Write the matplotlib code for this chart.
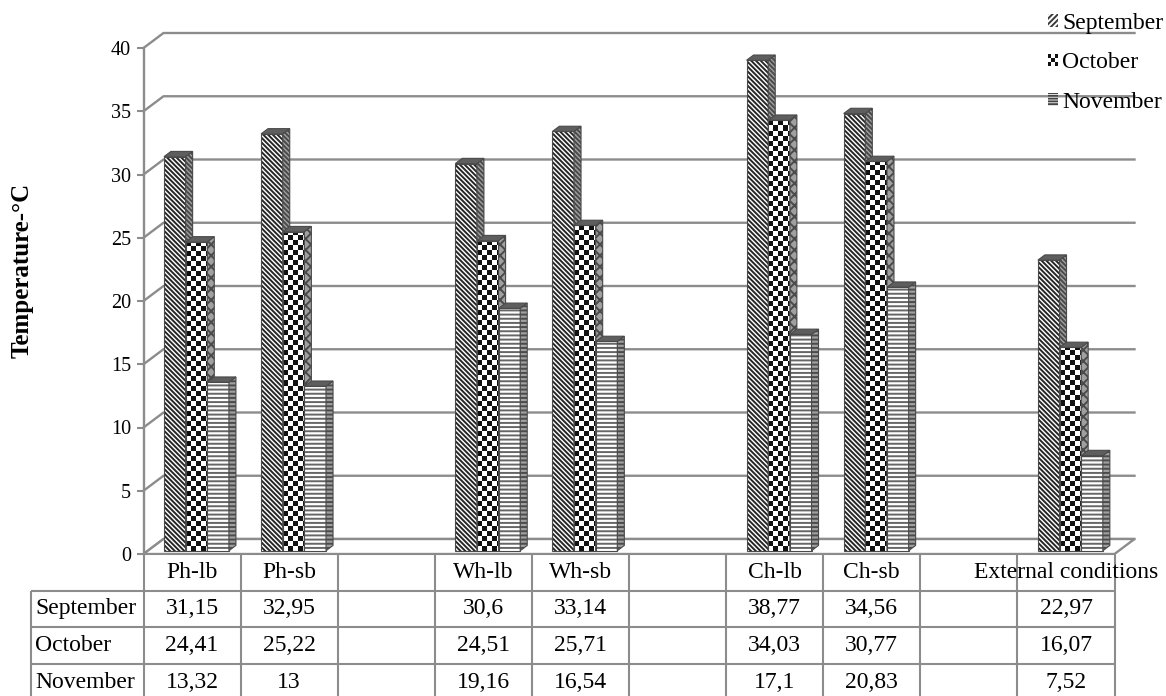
import matplotlib
matplotlib.use('Agg')
import matplotlib.pyplot as plt
import numpy as np
from matplotlib.patches import Polygon, Rectangle, Patch
from matplotlib.colors import ListedColormap
from matplotlib.legend_handler import HandlerBase

plt.rcParams['font.family'] = ['Liberation Serif', 'DejaVu Serif']
plt.rcParams['hatch.linewidth'] = 1.4

categories = ['Ph-lb', 'Ph-sb', '', 'Wh-lb', 'Wh-sb', '', 'Ch-lb', 'Ch-sb', '', 'External conditions']
months = ['September', 'October', 'November']
september = [31.15, 32.95, np.nan, 30.6, 33.14, np.nan, 38.77, 34.56, np.nan, 22.97]
october = [24.41, 25.22, np.nan, 24.51, 25.71, np.nan, 34.03, 30.77, np.nan, 16.07]
november = [13.32, 13, np.nan, 19.16, 16.54, np.nan, 17.1, 20.83, np.nan, 7.52]
yticks = [0, 5, 10, 15, 20, 25, 30, 35, 40]
ylabel = 'Temperature-°C'

# figure geometry (pixels)
W, H = 1166, 696
AX_L, AX_R, AX_T, AX_B = 143.5, 1136, 28, 554
PX_CAT = 97.1
PX_UNIT = 12.65
XMIN = -0.5
XMAX = XMIN + (AX_R - AX_L) / PX_CAT
YMAX = (AX_B - AX_T) / PX_UNIT

# fake 3D depth
DX = 20 / PX_CAT
DY = 15 / PX_UNIT
F0, F1 = 0.22, 0.57          # bar depth fractions
BAR_W = 0.223
GRID = '#8c8c8c'

fig = plt.figure(figsize=(W / 100, H / 100), dpi=100)
ax = fig.add_axes([AX_L / W, 1 - AX_B / H, (AX_R - AX_L) / W, (AX_B - AX_T) / H])

n = len(categories)
xlast = n - 0.5

# back wall gridlines + left wall diagonals
for t in yticks:
    ax.plot([XMIN, XMIN + DX, xlast + DX], [t, t + DY, t + DY],
            color=GRID, lw=1.7, zorder=1, clip_on=False)
# floor
floor = Polygon([(XMIN, 0), (xlast, 0), (xlast + DX, DY), (XMIN + DX, DY)],
                closed=True, facecolor='white', edgecolor=GRID, lw=1.7, zorder=1.5)
ax.add_patch(floor)

checker_cmap = ListedColormap(['white', '#111111'])
styles = [
    dict(hatch='\\' * 7, hcol='#262626', side_hatch='\\' * 7),
    dict(hatch=None, hcol='#222222', side_hatch='xxx'),
    dict(hatch='----', hcol='#666666', side_hatch='----'),
]
series = [september, october, november]

ddx = (F1 - F0) * DX
ddy = (F1 - F0) * DY
base = F0 * DY

for j, (vals, st) in enumerate(zip(series, styles)):
    z = 3 + j
    vals = np.asarray(vals, dtype=float)
    xs = np.arange(n) - 1.5 * BAR_W + j * BAR_W + F0 * DX
    ok = ~np.isnan(vals)
    bars = ax.bar(xs[ok], vals[ok], bottom=base, width=BAR_W, align='edge',
                  facecolor='white', edgecolor=st['hcol'], hatch=st['hatch'],
                  linewidth=0, zorder=z)
    if st['hatch'] is None:
        cw, ch = 5 / PX_CAT, 5 / PX_UNIT
        for b in bars:
            x0, y0 = b.get_x(), b.get_y()
            ncol = int(np.ceil(b.get_width() / cw))
            nrow = int(np.ceil(b.get_height() / ch))
            arr = np.add.outer(np.arange(nrow), np.arange(ncol)) % 2
            im = ax.imshow(arr, cmap=checker_cmap, origin='lower', interpolation='nearest',
                           extent=(x0, x0 + ncol * cw, y0, y0 + nrow * ch), zorder=z + 0.05)
            im.set_clip_path(b)
    ax.bar(xs[ok], vals[ok], bottom=base, width=BAR_W, align='edge',
           fill=False, edgecolor='#4a4a4a', linewidth=0.8, zorder=z + 0.1)
    for xl, v in zip(xs[ok], vals[ok]):
        xr = xl + BAR_W
        top = v + base
        side = Polygon([(xr, base), (xr + ddx, base + ddy), (xr + ddx, top + ddy), (xr, top)],
                       closed=True, facecolor='#a0a0a0', edgecolor='#4a4a4a',
                       hatch=st['side_hatch'], lw=0.8, zorder=z + 0.1)
        ax.add_patch(side)
        lid = Polygon([(xl, top), (xr, top), (xr + ddx, top + ddy), (xl + ddx, top + ddy)],
                      closed=True, facecolor='#5e5e5e', edgecolor='#4a4a4a', lw=0.8,
                      zorder=z + 0.1)
        ax.add_patch(lid)

ax.set_aspect('auto')
ax.set_xlim(XMIN, XMAX)
ax.set_ylim(0, YMAX)
for s in ['top', 'right', 'bottom']:
    ax.spines[s].set_visible(False)
ax.spines['left'].set_bounds(0, 40)
ax.spines['left'].set_color(GRID)
ax.spines['left'].set_linewidth(1.7)
ax.set_xticks([])
ax.set_yticks(yticks)
ax.tick_params(axis='y', labelsize=14.5, length=5, width=1.5, color=GRID, pad=4)
ax.patch.set_visible(False)

# data table, drawn on an overlay axes in pixel units
def fmt(v):
    return '' if np.isnan(v) else f'{v:g}'.replace('.', ',')

tax = fig.add_axes([0, 0, 1, 1], zorder=-1)
tax.set_xlim(0, W)
tax.set_ylim(H, 0)
tax.axis('off')

TAB_TOP, ROW_H, TAB_LEFT = 554, 36.6, 31
col_edges = AX_L + PX_CAT * np.arange(n + 1)
row_edges = TAB_TOP + ROW_H * np.arange(len(months) + 2)
tkw = dict(color=GRID, lw=1.5, solid_capstyle='butt')
tax.plot([col_edges[0], col_edges[-1]], [row_edges[0]] * 2, **tkw)
for y in row_edges[1:]:
    tax.plot([TAB_LEFT, col_edges[-1]], [y, y], **tkw)
tax.plot([TAB_LEFT, TAB_LEFT], [row_edges[1], row_edges[-1]], **tkw)
for x in col_edges:
    tax.plot([x, x], [row_edges[0], row_edges[-1]], **tkw)

centers = (col_edges[:-1] + col_edges[1:]) / 2
rmid = (row_edges[:-1] + row_edges[1:]) / 2
for cx, lab in zip(centers, categories):
    tax.text(cx, rmid[0], lab, ha='center', va='center', fontsize=17)
for r, (m, vals) in enumerate(zip(months, series)):
    tax.text(TAB_LEFT + 4, rmid[r + 1], m, ha='left', va='center', fontsize=17)
    for cx, v in zip(centers, vals):
        tax.text(cx, rmid[r + 1], fmt(v), ha='center', va='center', fontsize=17)

# legend
class CheckerHandler(HandlerBase):
    def create_artists(self, legend, orig_handle, xdescent, ydescent, width, height, fontsize, trans):
        k = 3
        cw, ch = width / k, height / k
        arts = []
        for r in range(k):
            for c in range(k):
                fc = '#111111' if (r + c) % 2 == 0 else 'white'
                arts.append(Rectangle((-xdescent + c * cw, -ydescent + r * ch), cw, ch,
                                      facecolor=fc, edgecolor='none', transform=trans))
        return arts

class CheckerPatch(Patch):
    pass

handles = [Patch(facecolor='white', edgecolor='#3a3a3a', hatch='//////', lw=0),
           CheckerPatch(),
           Patch(facecolor='white', edgecolor='#444444', hatch='------', lw=0)]
fig.legend(handles, months, loc='upper right', bbox_to_anchor=(1163 / W, 1 - 13 / H),
           frameon=False, fontsize=17, handlelength=0.45, handleheight=0.45,
           handletextpad=0.15, labelspacing=0.78, borderpad=0, borderaxespad=0,
           handler_map={CheckerPatch: CheckerHandler()})

fig.text(22 / W, 1 - 270 / H, ylabel, rotation=90, ha='center', va='center',
         fontsize=18, fontweight='bold')

fig.savefig('out.png', dpi=100)
